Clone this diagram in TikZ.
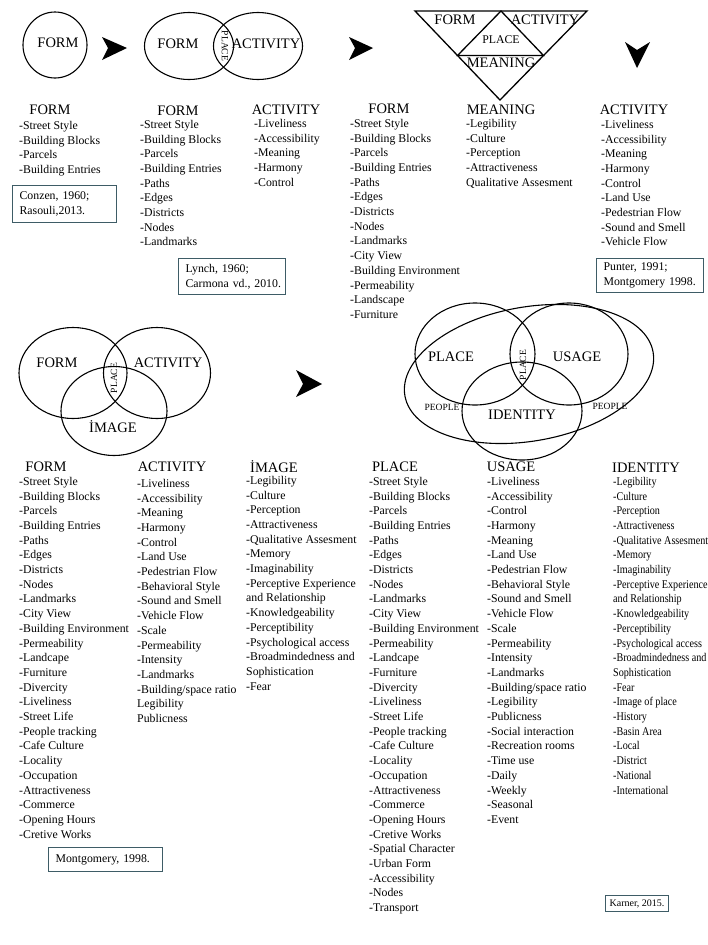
\documentclass[tikz,border=0pt]{standalone}
\usepackage{fontspec}
\setmainfont{Liberation Serif}
\newfontfamily\narrowserif[FakeStretch=0.86]{Liberation Serif}
\usetikzlibrary{calc}
\usetikzlibrary{shapes.geometric}
\definecolor{boxline}{HTML}{3E5C66}

\begin{document}
\begin{tikzpicture}[x=1pt, y=-1pt,
		v/.style = {ellipse, draw, line width=1.1pt, inner sep=0},
		hd/.style = {font=\fontsize{14.5}{16}\selectfont, inner sep=0},
		sm/.style = {font=\fontsize{9.5}{10}\selectfont, inner sep=0},
		lst/.style = {font=\fontsize{11.8}{14.7}\selectfont, align=left, inner sep=0, anchor=north west},
		src/.style = {draw=boxline, line width=1.2pt, font=\fontsize{11.8}{14.7}\selectfont, align=left, inner xsep=7, inner ysep=4, anchor=north west},
		tip/.style = {fill=black},
		tri/.style = {draw, line width=1.3pt, line join=miter}
		]
	\useasboundingbox (0,0) rectangle (708,945);

	%Top shapes
	\node[v, minimum width=64, minimum height=66]	(c1)	at	(55,45)		{};
	\node[hd]	(c1l)	at	(58,43)		{FORM};

	\node[v, minimum width=89, minimum height=67]	(c2a)	at	(189,46)	{};
	\node[v, minimum width=89, minimum height=67]	(c2b)	at	(258,46)	{};
	\node[hd]	(c2al)	at	(178,44)	{FORM};
	\node[hd]	(c2bl)	at	(266,44)	{ACTIVITY};
	\node[sm, rotate=-90]	(c2p)	at	(225,46)	{PLACE};

	\coordinate	(tl)	at	(415,11);
	\coordinate	(tr)	at	(587,11);
	\coordinate	(bt)	at	(500,100);
	\draw[tri]	(tl) -- (tr) -- (bt) -- cycle;
	\draw[tri]	($(tl)!.5!(tr)$) -- ($(tr)!.5!(bt)$) -- ($(tl)!.5!(bt)$) -- cycle;
	\node[hd]	(t1)	at	(455,20)	{FORM};
	\node[hd]	(t2)	at	(545,20)	{ACTIVITY};
	\node[inner sep=0, font=\fontsize{11.8}{14}\selectfont]	(t3)	at	(501,40)	{PLACE};
	\node[hd]	(t4)	at	(501,63)	{MEANING};

	%Arrows
	\fill[tip]	(102,37) -- (127,48) -- (102,60) -- (108,48) -- cycle;
	\fill[tip]	(349,37) -- (373,48) -- (349,60) -- (355,48) -- cycle;
	\fill[tip]	(625,42) -- (637,68) -- (650,42) -- (637,50) -- cycle;
	\fill[tip]	(296,370) -- (322,384) -- (296,397) -- (303,384) -- cycle;

	%Top lists
	\node[hd]	(h1)	at	(50,110)	{FORM};
	\node[lst]	(l1)	at	(19,121)	{-Street Style\\-Building Blocks\\-Parcels\\-Building Entries};
	\node[src, text width=90, minimum height=37]	(s1)	at	(12,185)	{\mbox{Conzen, 1960;}\\\mbox{Rasouli,2013.}};

	\node[hd]	(h2)	at	(178,111)	{FORM};
	\node[lst]	(l2)	at	(140,120)	{-Street Style\\-Building Blocks\\-Parcels\\-Building Entries\\-Paths\\-Edges\\-Districts\\-Nodes\\-Landmarks};
	\node[src, text width=93, minimum height=36]	(s2)	at	(178,258)	{\mbox{Lynch, 1960;}\\\mbox{Carmona vd., 2010.}};

	\node[hd]	(h3)	at	(286,110)	{ACTIVITY};
	\node[lst]	(l3)	at	(254,119)	{-Liveliness\\-Accessibility\\-Meaning\\-Harmony\\-Control};

	\node[hd]	(h4)	at	(389,109)	{FORM};
	\node[lst]	(l4)	at	(350,119)	{-Street Style\\-Building Blocks\\-Parcels\\-Building Entries\\-Paths\\-Edges\\-Districts\\-Nodes\\-Landmarks\\-City View\\-Building Environment\\-Permeability\\-Landscape\\-Furniture};

	\node[hd]	(h5)	at	(501,110)	{MEANING};
	\node[lst]	(l5)	at	(466,119)	{-Legibility\\-Culture\\-Perception\\-Attractiveness\\Qualitative Assesment};

	\node[hd]	(h6)	at	(634,110)	{ACTIVITY};
	\node[lst]	(l6)	at	(601,120)	{-Liveliness\\-Accessibility\\-Meaning\\-Harmony\\-Control\\-Land Use\\-Pedestrian Flow\\-Sound and Smell\\-Vehicle Flow};
	\node[src, text width=93, minimum height=34]	(s3)	at	(596,258)	{\mbox{Punter, 1991;}\\\mbox{Montgomery 1998.}};

	%Middle shapes
	\node[v, minimum width=108, minimum height=91]	(m1)	at	(73,373)	{};
	\node[v, minimum width=107, minimum height=91]	(m2)	at	(157,373)	{};
	\node[v, minimum width=106, minimum height=89]	(m3)	at	(114,411)	{};
	\node[hd]	(m1l)	at	(57,363)	{FORM};
	\node[hd]	(m2l)	at	(168,363)	{ACTIVITY};
	\node[hd]	(m3l)	at	(113,427)	{İMAGE};
	\node[sm, rotate=90]	(m4l)	at	(114,378)	{PLACE};

	\node[v, minimum width=252, minimum height=134, rotate=10]	(p0)	at	(529,374)	{};
	\node[v, minimum width=120, minimum height=102]	(p1)	at	(475,354)	{};
	\node[v, minimum width=118, minimum height=102]	(p2)	at	(569,354)	{};
	\node[v, minimum width=120, minimum height=98]	(p3)	at	(522,411)	{};
	\node[hd]	(p1l)	at	(451,357)	{PLACE};
	\node[hd]	(p2l)	at	(577,357)	{USAGE};
	\node[hd]	(p3l)	at	(522,415)	{IDENTITY};
	\node[sm, rotate=90]	(p4l)	at	(523,365)	{PLACE};
	\node[sm]	(p5l)	at	(442,407)	{PEOPLE};
	\node[sm]	(p6l)	at	(610,406)	{PEOPLE};

	%Bottom lists
	\node[hd]	(b1)	at	(46,467)	{FORM};
	\node[lst]	(k1)	at	(19,477)	{-Street Style\\-Building Blocks\\-Parcels\\-Building Entries\\-Paths\\-Edges\\-Districts\\-Nodes\\-Landmarks\\-City View\\-Building Environment\\-Permeability\\-Landcape\\-Furniture\\-Divercity\\-Liveliness\\-Street Life\\-People tracking\\-Cafe Culture\\-Locality\\-Occupation\\-Attractiveness\\-Commerce\\-Opening Hours\\-Cretive Works};
	\node[src, text width=100, minimum height=24]	(s4)	at	(48,847)	{\mbox{Montgomery, 1998.}};

	\node[hd]	(b2)	at	(172,467)	{ACTIVITY};
	\node[lst]	(k2)	at	(137,479)	{-Liveliness\\-Accessibility\\-Meaning\\-Harmony\\-Control\\-Land Use\\-Pedestrian Flow\\-Behavioral Style\\-Sound and Smell\\-Vehicle Flow\\-Scale\\-Permeability\\-Intensity\\-Landmarks\\-Building/space ratio\\Legibility\\Publicness};

	\node[hd]	(b3)	at	(274,467)	{İMAGE};
	\node[lst]	(k3)	at	(246,476)	{-Legibility\\-Culture\\-Perception\\-Attractiveness\\-Qualitative Assesment\\-Memory\\-Imaginability\\-Perceptive Experience\\and Relationship\\-Knowledgeability\\-Perceptibility\\-Psychological access\\-Broadmindedness and\\Sophistication\\-Fear};

	\node[hd]	(b4)	at	(395,467)	{PLACE};
	\node[lst]	(k4)	at	(369,477)	{-Street Style\\-Building Blocks\\-Parcels\\-Building Entries\\-Paths\\-Edges\\-Districts\\-Nodes\\-Landmarks\\-City View\\-Building Environment\\-Permeability\\-Landcape\\-Furniture\\-Divercity\\-Liveliness\\-Street Life\\-People tracking\\-Cafe Culture\\-Locality\\-Occupation\\-Attractiveness\\-Commerce\\-Opening Hours\\-Cretive Works\\-Spatial Character\\-Urban Form\\-Accessibility\\-Nodes\\-Transport};

	\node[hd]	(b5)	at	(511,467)	{USAGE};
	\node[lst]	(k5)	at	(487,477)	{-Liveliness\\-Accessibility\\-Control\\-Harmony\\-Meaning\\-Land Use\\-Pedestrian Flow\\-Behavioral Style\\-Sound and Smell\\-Vehicle Flow\\-Scale\\-Permeability\\-Intensity\\-Landmarks\\-Building/space ratio\\-Legibility\\-Publicness\\-Social interaction\\-Recreation rooms\\-Time use\\-Daily\\-Weekly\\-Seasonal\\-Event};

	\node[hd]	(b6)	at	(646,468)	{IDENTITY};
	\node[lst, font=\narrowserif\fontsize{11.8}{14.7}\selectfont]	(k6)	at	(613,477)	{-Legibility\\-Culture\\-Perception\\-Attractiveness\\-Qualitative Assesment\\-Memory\\-Imaginability\\-Perceptive Experience\\and Relationship\\-Knowledgeability\\-Perceptibility\\-Psychological access\\-Broadmindedness and\\Sophistication\\-Fear\\-Image of place\\-History\\-Basin Area\\-Local\\-District\\-National\\-International};
	\node[src, font=\fontsize{10}{12}\selectfont, inner xsep=4, inner ysep=4]	(s5)	at	(605,895)	{Karner, 2015.};
\end{tikzpicture}
\end{document}
